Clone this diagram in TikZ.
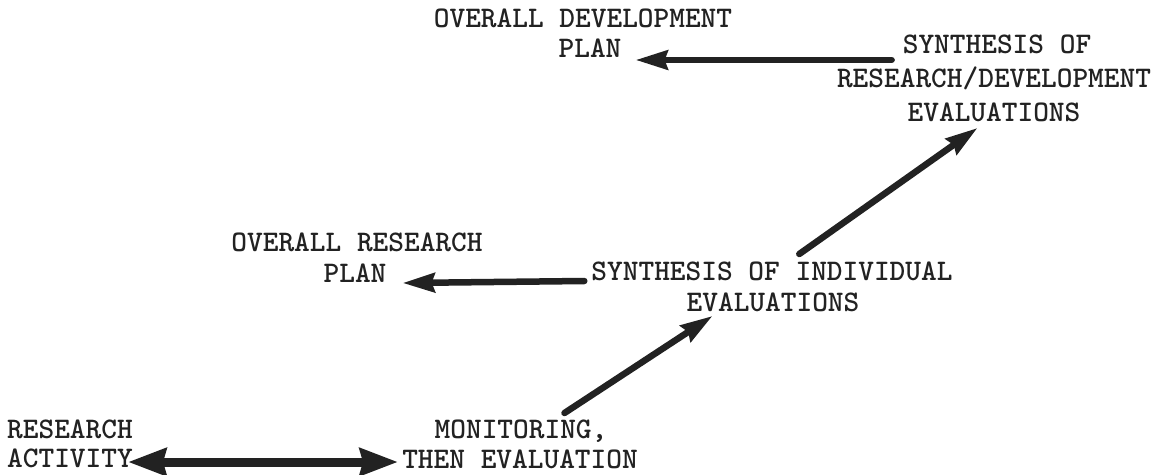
\documentclass[tikz,border=0pt]{standalone}
\usetikzlibrary{arrows.meta}
\definecolor{ink}{HTML}{222222}
\begin{document}
\begin{tikzpicture}[x=1pt,y=-1pt,
  lbl/.style={inner sep=0pt, anchor=base, text=ink,
    font=\ttfamily\bfseries\fontsize{29.9pt}{34pt}\selectfont},
  arr/.style={draw=ink, line width=6.5pt, line cap=round,
    -{Stealth[length=32pt,width=19pt,inset=3pt]}},
  darr/.style={draw=ink, line width=9pt,
    {Stealth[length=38pt,width=27pt,inset=3pt]}-{Stealth[length=38pt,width=27pt,inset=3pt]}}
  ]
\useasboundingbox (0,0) rectangle (1153,474);
% top left
\node[lbl] (od1) at (583,27) {OVERALL DEVELOPMENT};
\node[lbl] (od2) at (590,57) {PLAN};
% top right
\node[lbl] (sr1) at (997,53) {SYNTHESIS OF};
\node[lbl] (sr2) at (994,87) {RESEARCH/DEVELOPMENT};
\node[lbl] (sr3) at (994,121) {EVALUATIONS};
% middle left
\node[lbl] (or1) at (357,251) {OVERALL RESEARCH};
\node[lbl] (or2) at (355,282) {PLAN};
% middle right
\node[lbl] (si1) at (772,280) {SYNTHESIS OF INDIVIDUAL};
\node[lbl] (si2) at (773,311) {EVALUATIONS};
% bottom
\node[lbl] (me1) at (521,438) {MONITORING,};
\node[lbl] (me2) at (520,468) {THEN EVALUATION};
\node[lbl, anchor=base west] (ra1) at (7,438) {RESEARCH};
\node[lbl, anchor=base west] (ra2) at (7,467) {ACTIVITY};
% connectors
\draw[arr] ([xshift=-11pt,yshift=-7pt]sr1.base west) -- ([xshift=14pt,yshift=-3pt]od2.base east);
\draw[arr] ([xshift=-7pt,yshift=-1pt]si1.base west) -- ([xshift=16pt,yshift=-1pt]or2.base east);
\draw[arr] ([xshift=208pt,yshift=26pt]si1.base west) -- ([xshift=70pt,yshift=-7pt]sr3.base west);
\draw[arr] ([xshift=130pt,yshift=25pt]me1.base west) -- ([xshift=26pt,yshift=-5pt]si2.base west);
\draw[darr] ([xshift=-5pt,yshift=5pt]ra2.base east) -- ([xshift=-4pt,yshift=6pt]me2.base west);
\end{tikzpicture}
\end{document}
